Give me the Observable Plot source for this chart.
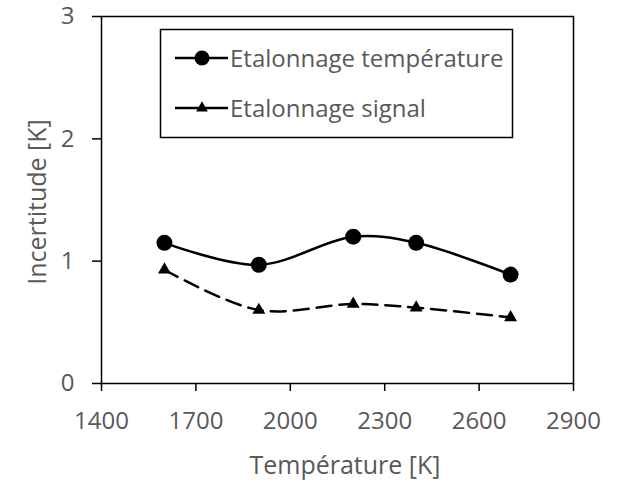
<!DOCTYPE html>
<html><head><meta charset="utf-8">
<script src="https://cdn.jsdelivr.net/npm/d3@7"></script>
<script src="https://cdn.jsdelivr.net/npm/@observablehq/plot@0.6"></script>
<style>
body{margin:0;background:#fff;}
#chart{position:relative;width:642px;height:481px;}
</style></head>
<body><div id="chart"></div>
<script>
const temperatures = [1600, 1900, 2200, 2400, 2700];
const etalonnageTemperature = [1.15, 0.97, 1.2, 1.15, 0.89];
const etalonnageSignal = [0.93, 0.6, 0.65, 0.62, 0.54];
const xTicks = [1400, 1700, 2000, 2300, 2600, 2900];
const yTicks = [0, 1, 2, 3];
const seriesNames = ["Etalonnage température", "Etalonnage signal"];

const tData = temperatures.map((x, i) => ({x, y: etalonnageTemperature[i]}));
const sData = temperatures.map((x, i) => ({x, y: etalonnageSignal[i]}));

const font = "'Open Sans', sans-serif";
const W = 642, H = 481;
const mL = 101, mR = 69, mT = 16, mB = 98;

const plot = Plot.plot({
  width: W, height: H,
  marginLeft: mL, marginRight: mR, marginTop: mT, marginBottom: mB,
  style: {fontFamily: font, fontSize: "24px", color: "#595959", background: "#fff", overflow: "visible"},
  x: {domain: [1400, 2900], label: null},
  y: {domain: [0, 3], label: null},
  marks: [
    Plot.frame({stroke: "#000", strokeWidth: 1.5}),
    Plot.axisX({ticks: xTicks, tickFormat: d3.format("d"), tickSize: 8, tickPadding: 20, stroke: "#000", strokeWidth: 1.5, fill: "#595959", fontSize: 24, label: null}),
    Plot.axisY({ticks: yTicks, tickFormat: d3.format("d"), tickSize: 9, tickPadding: 18, stroke: "#000", strokeWidth: 1.5, fill: "#595959", fontSize: 24, label: null}),
    Plot.line(tData, {x: "x", y: "y", curve: "catmull-rom", stroke: "#000", strokeWidth: 2.5}),
    Plot.dot(tData, {x: "x", y: "y", r: 8, fill: "#000", stroke: "none"}),
    Plot.line(sData, {x: "x", y: "y", curve: "catmull-rom", stroke: "#000", strokeWidth: 2.5, strokeDasharray: "15,8"}),
    Plot.dot(sData, {x: "x", y: "y", symbol: "triangle", r: 4.8, fill: "#000", stroke: "none"})
  ]
});
document.getElementById("chart").appendChild(plot);

const svg = d3.select(plot);
svg.selectAll("[aria-label='x-axis tick label'], [aria-label='y-axis tick label']")
  .attr("font-size", 24).style("font-size", "24px");

// axis titles
svg.append("text").attr("x", 345).attr("y", 474)
  .attr("text-anchor", "middle").attr("font-family", font).attr("font-size", 25).attr("fill", "#595959")
  .text("Température [K]");
svg.append("text").attr("transform", `translate(46,202) rotate(-90)`)
  .attr("text-anchor", "middle").attr("font-family", font).attr("font-size", 25).attr("fill", "#595959")
  .text("Incertitude [K]");

// legend
const lg = svg.append("g").attr("text-anchor", "start");
lg.append("rect").attr("x", 160.5).attr("y", 29.5).attr("width", 352).attr("height", 108)
  .attr("fill", "#fff").attr("stroke", "#000").attr("stroke-width", 1.5);
const rows = [58, 108];
seriesNames.forEach((name, i) => {
  const y = rows[i];
  lg.append("line").attr("x1", 175).attr("x2", 228).attr("y1", y).attr("y2", y)
    .attr("stroke", "#000").attr("stroke-width", 2.5);
  if (i === 0) lg.append("circle").attr("cx", 202).attr("cy", y).attr("r", 7.5).attr("fill", "#000");
  else lg.append("path").attr("d", d3.symbol(d3.symbolTriangle, 60)()).attr("transform", `translate(202,${y})`).attr("fill", "#000");
  lg.append("text").attr("x", 230).attr("y", y).attr("dy", "0.36em").attr("text-anchor", "start")
    .attr("font-family", font).attr("font-size", 24).attr("fill", "#595959").text(name);
});
</script>
</body></html>
